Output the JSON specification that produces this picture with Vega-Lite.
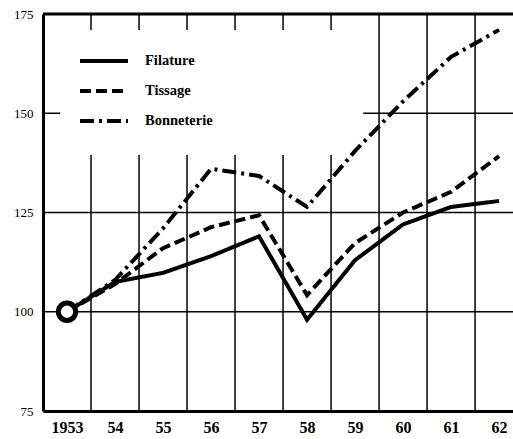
{
  "$schema": "https://vega.github.io/schema/vega-lite/v6.json",
  "width": 470,
  "height": 397,
  "autosize": {"type": "none"},
  "padding": {"left": 43, "top": 14, "right": 0, "bottom": 28},
  "background": "white",
  "config": {"view": {"stroke": null}},
  "datasets": {
    "series": [
      {"year": 1953, "series": "Filature", "value": 100},
      {"year": 1954, "series": "Filature", "value": 107.5},
      {"year": 1955, "series": "Filature", "value": 109.8},
      {"year": 1956, "series": "Filature", "value": 114},
      {"year": 1957, "series": "Filature", "value": 119},
      {"year": 1958, "series": "Filature", "value": 98},
      {"year": 1959, "series": "Filature", "value": 113},
      {"year": 1960, "series": "Filature", "value": 122},
      {"year": 1961, "series": "Filature", "value": 126.4},
      {"year": 1962, "series": "Filature", "value": 127.9},
      {"year": 1953, "series": "Tissage", "value": 100},
      {"year": 1954, "series": "Tissage", "value": 107},
      {"year": 1955, "series": "Tissage", "value": 116},
      {"year": 1956, "series": "Tissage", "value": 121.3},
      {"year": 1957, "series": "Tissage", "value": 124.3},
      {"year": 1958, "series": "Tissage", "value": 104.2},
      {"year": 1959, "series": "Tissage", "value": 117.3},
      {"year": 1960, "series": "Tissage", "value": 125},
      {"year": 1961, "series": "Tissage", "value": 130.2},
      {"year": 1962, "series": "Tissage", "value": 139.2},
      {"year": 1953, "series": "Bonneterie", "value": 100},
      {"year": 1954, "series": "Bonneterie", "value": 108},
      {"year": 1955, "series": "Bonneterie", "value": 121},
      {"year": 1956, "series": "Bonneterie", "value": 136},
      {"year": 1957, "series": "Bonneterie", "value": 134.2},
      {"year": 1958, "series": "Bonneterie", "value": 126.4},
      {"year": 1959, "series": "Bonneterie", "value": 140.5},
      {"year": 1960, "series": "Bonneterie", "value": 153},
      {"year": 1961, "series": "Bonneterie", "value": 164.2},
      {"year": 1962, "series": "Bonneterie", "value": 171}
    ],
    "vgrid": [
      {"x": 1953.5, "y": 75, "y2": 139.5},
      {"x": 1954.5, "y": 75, "y2": 139.5},
      {"x": 1955.5, "y": 75, "y2": 139.5},
      {"x": 1956.5, "y": 75, "y2": 139.5},
      {"x": 1957.5, "y": 75, "y2": 139.5},
      {"x": 1958.5, "y": 75, "y2": 139.5},
      {"x": 1953.5, "y": 171, "y2": 175},
      {"x": 1954.5, "y": 171, "y2": 175},
      {"x": 1955.5, "y": 171, "y2": 175},
      {"x": 1956.5, "y": 171, "y2": 175},
      {"x": 1957.5, "y": 171, "y2": 175},
      {"x": 1958.5, "y": 171, "y2": 175},
      {"x": 1959.5, "y": 75, "y2": 175},
      {"x": 1960.5, "y": 75, "y2": 175},
      {"x": 1961.5, "y": 75, "y2": 175}
    ],
    "hgrid": [
      {"x": 1952.5, "x2": 1962.29, "y": 100},
      {"x": 1952.5, "x2": 1962.29, "y": 125},
      {"x": 1959.17, "x2": 1962.29, "y": 150},
      {"x": 1952.5, "x2": 1952.86, "y": 150}
    ],
    "origin": [{"year": 1953, "value": 100}]
  },
  "layer": [
    {
      "data": {"name": "vgrid"},
      "mark": {"type": "rule", "color": "black", "strokeWidth": 1.5},
      "encoding": {
        "x": {"field": "x", "type": "quantitative", "scale": {"domain": [1952.5, 1962.29], "nice": false, "zero": false},
          "axis": {"values": [1953, 1954, 1955, 1956, 1957, 1958, 1959, 1960, 1961, 1962],
            "labelExpr": "datum.value == 1953 ? '1953' : substring(toString(datum.value), 2, 4)",
            "title": null, "grid": false, "ticks": false, "domainColor": "black", "domainWidth": 3,
            "labelFont": "Liberation Serif", "labelFontSize": 16, "labelFontWeight": "bold", "labelColor": "black",
            "labelPadding": 8, "labelFlush": false}},
        "y": {"field": "y", "type": "quantitative", "scale": {"domain": [75, 175], "nice": false, "zero": false},
          "axis": {"values": [75, 100, 125, 150, 175], "title": null, "grid": false, "ticks": false,
            "domainColor": "black", "domainWidth": 3,
            "labelFont": "Liberation Serif", "labelFontSize": 13, "labelColor": "black", "labelPadding": 10,
            "labelFlush": false}},
        "y2": {"field": "y2"}
      }
    },
    {
      "data": {"name": "hgrid"},
      "mark": {"type": "rule", "color": "black", "strokeWidth": 1.5},
      "encoding": {
        "x": {"field": "x", "type": "quantitative"},
        "x2": {"field": "x2"},
        "y": {"field": "y", "type": "quantitative"}
      }
    },
    {
      "data": {"values": [{"y": 175}]},
      "mark": {"type": "rule", "color": "black", "strokeWidth": 3},
      "encoding": {"y": {"field": "y", "type": "quantitative"}}
    },
    {
      "data": {"name": "series"},
      "mark": {"type": "line", "color": "black", "strokeWidth": 4, "strokeCap": "butt"},
      "encoding": {
        "x": {"field": "year", "type": "quantitative"},
        "y": {"field": "value", "type": "quantitative"},
        "strokeDash": {"field": "series", "type": "nominal",
          "scale": {"domain": ["Filature", "Tissage", "Bonneterie"], "range": [[1, 0], [11, 5], [14, 5, 3, 5]]},
          "legend": {"orient": "none", "legendX": 39, "legendY": 25, "title": null,
            "symbolType": "M-1.2,0H1.2", "symbolSize": 1600, "symbolStrokeWidth": 4, "symbolStrokeColor": "black",
            "symbolFillColor": "transparent",
            "labelFont": "Liberation Serif", "labelFontSize": 14.5, "labelFontWeight": "bold", "labelColor": "black",
            "labelOffset": 19, "rowPadding": 0}}
      }
    },
    {
      "data": {"name": "origin"},
      "mark": {"type": "point", "shape": "circle", "size": 300, "strokeWidth": 5, "stroke": "black", "fill": "white", "filled": true, "opacity": 1},
      "encoding": {
        "x": {"field": "year", "type": "quantitative"},
        "y": {"field": "value", "type": "quantitative"}
      }
    }
  ]
}
